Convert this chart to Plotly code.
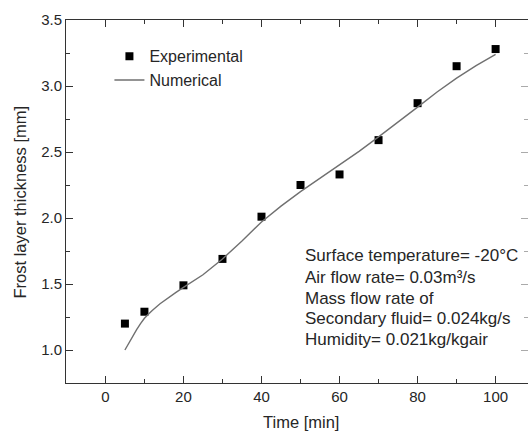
import plotly.graph_objects as go

time_exp = [5, 10, 20, 30, 40, 50, 60, 70, 80, 90, 100]
thick_exp = [1.20, 1.29, 1.49, 1.69, 2.01, 2.25, 2.33, 2.59, 2.87, 3.15, 3.28]

time_num = [5, 6, 7, 8, 9, 10, 11, 12, 14, 16, 18, 20, 25, 30, 35, 40, 45, 50, 55, 60,
            65, 70, 75, 80, 85, 90, 95, 100]
thick_num = [1.00, 1.055, 1.105, 1.155, 1.20, 1.24, 1.27, 1.30, 1.35, 1.395, 1.435, 1.475,
             1.57, 1.69, 1.825, 1.97, 2.09, 2.20, 2.30, 2.40, 2.505, 2.615, 2.725, 2.84,
             2.955, 3.06, 3.155, 3.24]

x_title = "Time [min]"
y_title = "Frost layer thickness [mm]"
info_lines = ["Surface temperature= -20°C", "Air flow rate= 0.03m³/s", "Mass flow rate of",
              "Secondary fluid= 0.024kg/s", "Humidity= 0.021kg/kgair"]

FONT = "Liberation Sans, Arial, sans-serif"
TXT = "#262626"
AX = "#333333"

fig = go.Figure()
fig.add_trace(go.Scatter(x=time_exp, y=thick_exp, mode="markers", name="Experimental",
                         marker=dict(symbol="square", size=8, color="black")))
fig.add_trace(go.Scatter(x=time_num, y=thick_num, mode="lines", name="Numerical",
                         line=dict(color="#707070", width=1.4)))
# invisible trace for mirrored tick axes
fig.add_trace(go.Scatter(x=[0], y=[1], xaxis="x2", yaxis="y2", mode="markers",
                         marker=dict(opacity=0), showlegend=False, hoverinfo="skip"))

xr = [-10.1, 108.3]
yr = [0.75, 3.5]
base = dict(ticks="inside", ticklen=7, tickwidth=1, showgrid=False, zeroline=False,
            linewidth=1, automargin=False, tickfont=dict(size=15, color=TXT))

fig.update_layout(
    width=528, height=432,
    margin=dict(l=66, r=0, t=20, b=49),
    paper_bgcolor="white", plot_bgcolor="white",
    font=dict(family=FONT, size=15, color=TXT),
    showlegend=True,
    legend=dict(x=0.094, y=0.947, xanchor="left", yanchor="top", bgcolor="rgba(0,0,0,0)",
                font=dict(size=16, color=TXT), itemwidth=30, tracegroupgap=0),
    xaxis=dict(range=xr, dtick=20, tick0=0, showline=True, linecolor=AX, tickcolor=AX,
               minor=dict(ticks="inside", ticklen=4, dtick=10, tickcolor=AX), **base),
    yaxis=dict(range=yr, dtick=0.5, tick0=1.0, showline=True, linecolor=AX, tickcolor=AX,
               tickformat=".1f",
               minor=dict(ticks="inside", ticklen=4, dtick=0.25, tickcolor=AX), **base),
    xaxis2=dict(range=xr, dtick=20, tick0=0, overlaying="x", side="top", matches="x",
                showline=True, linecolor=AX, tickcolor=AX, showticklabels=False,
                minor=dict(ticks="inside", ticklen=4, dtick=10, tickcolor=AX), **base),
    yaxis2=dict(range=yr, dtick=0.5, tick0=1.0, overlaying="y", side="right", matches="y",
                showline=False, tickcolor="#aaaaaa", showticklabels=False,
                minor=dict(ticks="inside", ticklen=4, dtick=0.25, tickcolor="#aaaaaa"), **base),
)

fig.add_annotation(x=0.509, y=-0.1075, xref="paper", yref="paper", text=x_title,
                   showarrow=False, xanchor="center", yanchor="middle",
                   font=dict(size=16.5, color=TXT))
fig.add_annotation(x=-0.0996, y=0.5, xref="paper", yref="paper", text=y_title,
                   showarrow=False, xanchor="center", yanchor="middle", textangle=-90,
                   font=dict(size=16.5, color=TXT))

line_y = [0.351, 0.291, 0.234, 0.179, 0.121]
for txt, yy in zip(info_lines, line_y):
    fig.add_annotation(x=0.514, y=yy, xref="paper", yref="paper", text=txt, showarrow=False,
                       xanchor="left", yanchor="middle", font=dict(size=17, color=TXT))

fig.write_html("out.html", config={"displayModeBar": False},
               post_script="document.body.style.margin='0px';document.body.style.overflow='hidden';")
